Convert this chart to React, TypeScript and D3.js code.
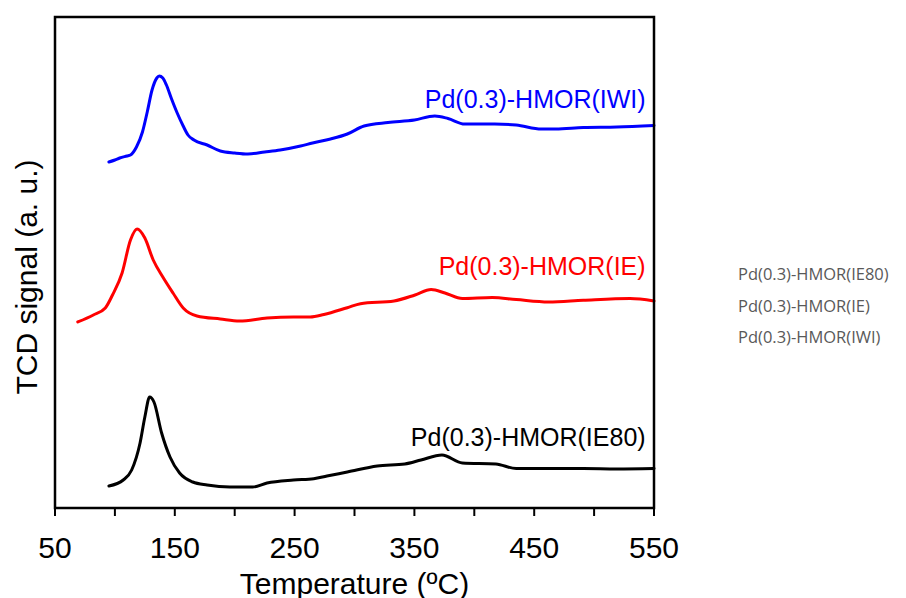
import React from "react";
import * as d3 from "d3";

const iwiT = [95,100,104,110,113,118,123,127,131,135,137,140,143,147,152,157,161,166,177,188,200,211,225,238,255,265,280,294,308,328,350,367,378,392,417,435,456,468,491,519,550];
const iwiS = [346,348,350,352,353,361,376,396,418,430,432,430,423,410,395,382,373,368,363,357,355,354,356,358,362,365,369,374,382,385.5,388,392,389.5,384,384,383,379,379,380.5,381,382.5];

const ieT = [69,82,92,98,106,113,118.5,125,132,140,148.5,157,168.5,188,204,227,249,263,274.5,294,305,333,350.5,364,375.5,390,415,435,462,491,530,550];
const ieS = [186,193,200,213,235,268,279,270,248,231,215,200,192,189,187,190,191,191,193.5,200.3,204.3,207,213,218.5,215,209.4,210.4,208.4,206,207.7,209.4,207];

const ie80T = [95,107,114,121,125,129,132.6,139,146,154,165,177,196,215,227,249,266,277,294,319,342,355.5,373,390,418,435,462,491,519,550];
const ie80S = [22,28,38,65,91,111,106,75,51,35,26,23,21,21,25,28,29.3,32,36,42,44,48,53,45,44,39.4,39.4,39.4,39,39.4];

const seriesNames = ["Pd(0.3)-HMOR(IWI)", "Pd(0.3)-HMOR(IE)", "Pd(0.3)-HMOR(IE80)"];
const seriesColors = ["#0000ff", "#ff0000", "#000000"];
const labelSignal = [400, 233, 62];
const legendNames = ["Pd(0.3)-HMOR(IE80)", "Pd(0.3)-HMOR(IE)", "Pd(0.3)-HMOR(IWI)"];

const xTicks = [50, 100, 150, 200, 250, 300, 350, 400, 450, 500, 550];
const xLabels = [50, 150, 250, 350, 450, 550];

export default function App() {
  const left = 55, right = 654, top = 17, bottom = 508;
  const x = d3.scaleLinear().domain([50, 550]).range([left, right]);
  const y = d3.scaleLinear().domain([0, 491]).range([bottom, top]);
  const line = d3
    .line<[number, number]>()
    .x((d) => x(d[0]))
    .y((d) => y(d[1]))
    .curve(d3.curveMonotoneX);
  const data = [
    d3.zip(iwiT, iwiS) as [number, number][],
    d3.zip(ieT, ieS) as [number, number][],
    d3.zip(ie80T, ie80S) as [number, number][],
  ];
  const font = "'Liberation Sans', Arial, sans-serif";
  return (
    <svg
      width={906}
      height={598}
      style={{ position: "absolute", left: 0, top: 0, background: "#fff" }}
    >
      <rect x={0} y={0} width={906} height={598} fill="#fff" />
      {data.map((d, i) => (
        <path
          key={i}
          d={line(d) || ""}
          fill="none"
          stroke={seriesColors[i]}
          strokeWidth={3}
          strokeLinejoin="round"
          strokeLinecap="round"
        />
      ))}
      {seriesNames.map((n, i) => (
        <text
          key={n}
          x={x(543)}
          y={y(labelSignal[i])}
          textAnchor="end"
          fontFamily={font}
          fontSize={25}
          fill={seriesColors[i]}
        >
          {n}
        </text>
      ))}
      <rect
        x={left}
        y={top}
        width={right - left}
        height={bottom - top}
        fill="none"
        stroke="#000"
        strokeWidth={2.5}
      />
      {xTicks.map((t) => (
        <line key={t} x1={x(t)} x2={x(t)} y1={bottom} y2={bottom + 8} stroke="#000" strokeWidth={2} />
      ))}
      {xLabels.map((t) => (
        <text
          key={t}
          x={x(t)}
          y={558}
          textAnchor="middle"
          fontFamily={font}
          fontSize={30}
          fill="#000"
        >
          {t}
        </text>
      ))}
      <text x={(left + right) / 2} y={594} textAnchor="middle" fontFamily={font} fontSize={30} fill="#000">
        Temperature (ºC)
      </text>
      <text
        transform={`translate(37, 277) rotate(-90)`}
        textAnchor="middle"
        fontFamily={font}
        fontSize={30}
        fill="#000"
      >
        TCD signal (a. u.)
      </text>
      {legendNames.map((n, i) => (
        <text
          key={n}
          x={738}
          y={280 + i * 31.5}
          fontFamily="'Open Sans', 'Noto Sans', sans-serif"
          fontSize={16.5}
          fill="#595959"
        >
          {n}
        </text>
      ))}
    </svg>
  );
}
